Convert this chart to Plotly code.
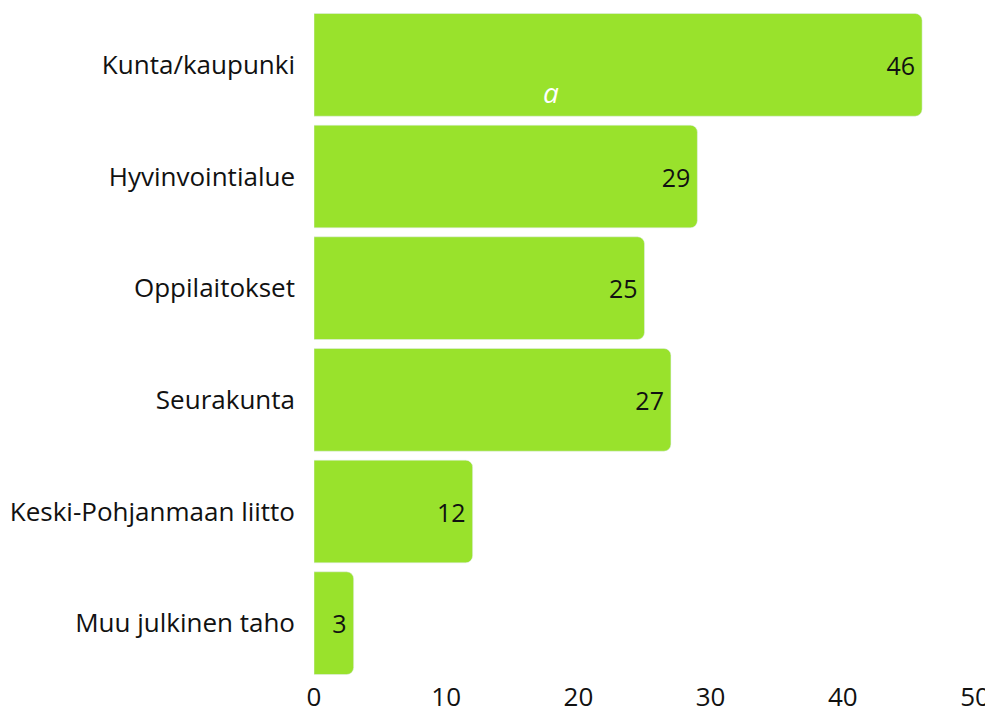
import plotly.graph_objects as go

categories = ["Kunta/kaupunki", "Hyvinvointialue", "Oppilaitokset", "Seurakunta",
              "Keski-Pohjanmaan liitto", "Muu julkinen taho"]
values = [46, 29, 25, 27, 12, 3]
x_ticks = [0, 10, 20, 30, 40, 50]

fig = go.Figure(go.Bar(
    y=categories, x=values, orientation="h",
    marker=dict(color="#99e22c", cornerradius=7),
    text=[str(v) for v in values], textposition="inside",
    insidetextanchor="end", textangle=0,
    textfont=dict(color="#111111", size=25, family="Open Sans"),
    hoverinfo="skip",
))
fig.add_annotation(x=17.9, y=categories[0], yshift=-27, text="<i>a</i>",
                   showarrow=False, font=dict(color="white", size=28, family="Open Sans"))
fig.update_layout(
    width=985, height=701, plot_bgcolor="white", paper_bgcolor="white",
    margin=dict(l=306, r=18, t=1, b=30), bargap=0.08, showlegend=False,
    font=dict(family="Open Sans", size=26, color="#111111"),
    xaxis=dict(range=[0, 50], tickvals=x_ticks, showgrid=False, zeroline=False,
               showline=False, ticks="", tickfont=dict(size=26), automargin=False),
    yaxis=dict(autorange="reversed", showgrid=False, ticks="", ticklabelstandoff=18,
               tickfont=dict(size=26), automargin=False),
    uniformtext=dict(mode=False),
)
fig.write_html("out.html")
